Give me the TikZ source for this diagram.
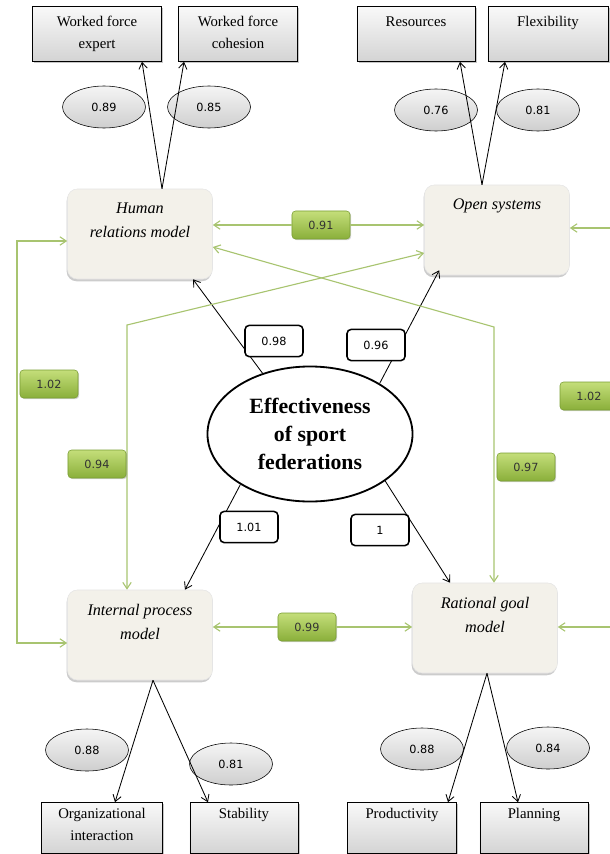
\documentclass[tikz,border=0pt]{standalone}
\usepackage{fontspec}
\setmainfont{Liberation Serif}
\newfontfamily\numfont{DejaVu Sans}
\usepackage{xcolor}
\usetikzlibrary{arrows.meta,shadows,calc,shapes.geometric}
\definecolor{modelfill}{RGB}{243,241,234}
\definecolor{greenline}{RGB}{168,196,112}
\definecolor{greentop}{RGB}{196,222,122}
\definecolor{greenbot}{RGB}{138,175,58}
\definecolor{greenrim}{RGB}{122,158,52}
\tikzset{
  basenode/.style = {align=center, inner sep=0pt, text centered},
  item_node/.style = {basenode, rectangle, draw=black, top color=gray!5, bottom color=gray!34, minimum height=1.375cm,
    drop shadow={shadow xshift=1.2pt, shadow yshift=-1.2pt, opacity=0.45}},
  item_top/.style = {basenode, anchor=north, yshift=-7pt, font=\fontsize{10.5}{15.5}\selectfont},
  item_bot/.style = {basenode, anchor=north, yshift=-4pt, font=\fontsize{10.5}{16}\selectfont},
  model_node/.style = {basenode, rectangle, rounded corners=7pt, draw=gray!20, fill=modelfill, minimum width=3.625cm, minimum height=2.25cm,
    drop shadow={shadow xshift=-0.6pt, shadow yshift=-1.6pt, opacity=0.4}},
  model_text/.style = {basenode, anchor=north, yshift=-10pt, font=\fontsize{11.5}{17}\selectfont\itshape},
  err_node/.style = {basenode, ellipse, draw=black, top color=gray!8, bottom color=gray!38, minimum width=2.075cm, minimum height=1.05cm,
    font=\numfont\fontsize{8}{9}\selectfont},
  latent_node/.style = {basenode, ellipse, draw=black, line width=1.3pt, fill=white, minimum width=5.125cm, minimum height=3.375cm,
    font=\fontsize{15.5}{20}\selectfont\bfseries},
  value_node/.style = {basenode, rectangle, rounded corners=3pt, draw=black, line width=1.1pt, fill=white, minimum width=1.45cm, minimum height=0.78cm,
    font=\numfont\fontsize{8}{9}\selectfont},
  corr_node/.style = {basenode, rectangle, rounded corners=2.5pt, draw=greenrim, top color=greentop, bottom color=greenbot, minimum width=1.45cm,
    minimum height=0.7cm, text=black!80, font=\numfont\fontsize{8}{9}\selectfont,
    drop shadow={shadow xshift=0.8pt, shadow yshift=-0.8pt, opacity=0.35}},
  b_edge/.style = {draw=black, line width=0.6pt},
  g_edge/.style = {draw=greenline, line width=0.8pt},
}

\begin{document}
\begin{tikzpicture}[x=0.025cm, y=-0.025cm, >={Straight Barb[length=4.5pt,width=6pt]}]
    \clip (0,0) rectangle (610,854);

    \node [item_node, minimum width=3.225cm, label={[item_top]north:Worked force\\expert}] (wfe) at (97,34) {};
    \node [item_node, minimum width=2.975cm, label={[item_top]north:Worked force\\cohesion}] (wfc) at (238,34) {};
    \node [item_node, minimum width=2.95cm, label={[item_top]north:Resources}] (res) at (416,34) {};
    \node [item_node, minimum width=3cm, label={[item_top]north:Flexibility}] (flex) at (548,34) {};

    \node [item_node, minimum width=3.025cm, minimum height=1.275cm, label={[item_bot]north:Organizational\\interaction}] (org) at (102,828) {};
    \node [item_node, minimum width=2.7cm, minimum height=1.275cm, label={[item_bot]north:Stability}] (stab) at (244,828) {};
    \node [item_node, minimum width=2.725cm, minimum height=1.275cm, label={[item_bot]north:Productivity}] (prod) at (402,828) {};
    \node [item_node, minimum width=2.7cm, minimum height=1.275cm, label={[item_bot]north:Planning}] (plan) at (534,828) {};

    \node [err_node] (e1) at (104,107) {0.89};
    \node [err_node] (e2) at (209,107) {0.85};
    \node [err_node] (e3) at (436,110) {0.76};
    \node [err_node] (e4) at (538,110) {0.81};
    \node [err_node] (e5) at (87,750) {0.88};
    \node [err_node] (e6) at (231,764) {0.81};
    \node [err_node] (e7) at (422,749) {0.88};
    \node [err_node] (e8) at (548,748) {0.84};

    \node [model_node, label={[model_text]north:Human\\relations model}] (hrm) at (140,234) {};
    \node [model_node, label={[model_text]north:Open systems}] (osm) at (497,230) {};
    \node [model_node, label={[model_text]north:Internal process\\model}] (ipm) at (140,635) {};
    \node [model_node, label={[model_text]north:Rational goal\\model}] (rgm) at (485,628) {};

    \node [latent_node] (eff) at (310,434) {Effectiveness\\of sport\\federations};

    \draw [b_edge,->] ($(hrm.north)+(22,0)$) -- ($(wfe.south)+(45,0)$);
    \draw [b_edge,->] ($(hrm.north)+(22,0)$) -- ($(wfc.south)+(-54,0)$);
    \draw [b_edge,->] ($(osm.north)+(-15,0)$) -- ($(res.south)+(44,0)$);
    \draw [b_edge,->] ($(osm.north)+(-15,0)$) -- ($(flex.south)+(-43,0)$);
    \draw [b_edge,->] ($(ipm.south)+(13,0)$) -- ($(org.north)+(13,0)$);
    \draw [b_edge,->] ($(ipm.south)+(13,0)$) -- ($(stab.north)+(-36,0)$);
    \draw [b_edge,->] ($(rgm.south)+(2,0)$) -- ($(prod.north)+(46,0)$);
    \draw [b_edge,->] ($(rgm.south)+(2,0)$) -- ($(plan.north)+(-16,0)$);

    \draw [b_edge,->] (eff.128) -- ($(hrm.south)+(53,0)$);
    \draw [b_edge,->] (eff.36) -- ($(osm.south west)+(15,-5)$);
    \draw [b_edge,->] (eff.216) -- ($(ipm.north)+(45,0)$);
    \draw [b_edge,->] (eff.328) -- ($(rgm.north)+(-35,0)$);

    \coordinate (lt) at (17,241);
    \coordinate (lb) at (17,643);
    \coordinate (rt) at (618,228);
    \coordinate (rb) at (618,627);
    \coordinate (k94) at (127,325);
    \coordinate (k97) at (494,327);
    \draw [g_edge,<->] (hrm.west |- lt) -- (lt) -- (lb) -- (ipm.west |- lb);
    \draw [g_edge,<->] (osm.east |- rt) -- (rt) -- (rb) -- (rgm.east |- rb);
    \draw [g_edge,<->] ($(osm.west)+(0,23)$) -- (k94) -- (k94 |- ipm.north);
    \draw [g_edge,<->] ($(hrm.east)+(0,13)$) -- (k97) -- (k97 |- rgm.north);

    \node [corr_node] (g091) at (321,225) {0.91};
    \node [corr_node] (g099) at (307,627) {0.99};
    \node [corr_node] (g102a) at (49,384) {1.02};
    \node [corr_node] (g094) at (97,464) {0.94};
    \node [corr_node] (g097) at (526,467) {0.97};
    \node [corr_node] (g102b) at (589,396) {1.02};
    \draw [g_edge,->] (g091) -- (g091 -| hrm.east);
    \draw [g_edge,->] (g091) -- (g091 -| osm.west);
    \draw [g_edge,->] (g099) -- (g099 -| ipm.east);
    \draw [g_edge,->] (g099) -- (g099 -| rgm.west);

    \node [value_node] (v098) at (274,341) {0.98};
    \node [value_node] (v096) at (376,345) {0.96};
    \node [value_node] (v101) at (249,527) {1.01};
    \node [value_node] (v1) at (380,530) {1};
\end{tikzpicture}
\end{document}
